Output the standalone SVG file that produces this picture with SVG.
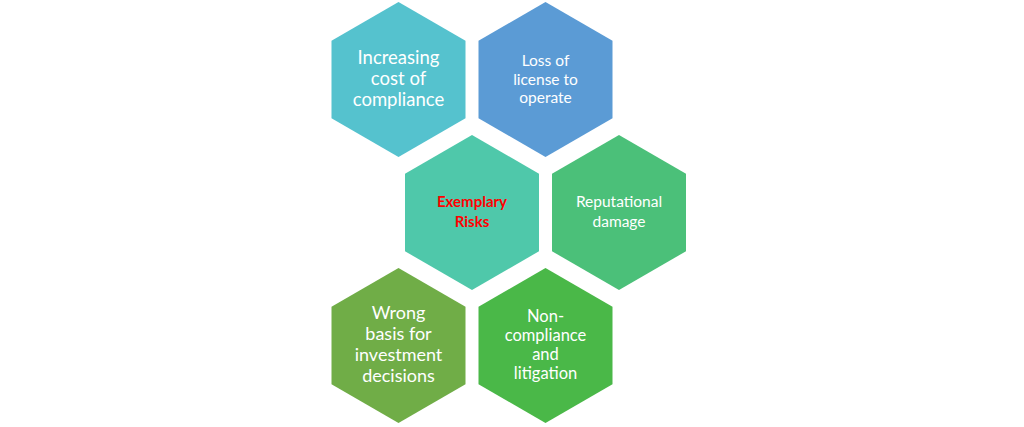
<svg xmlns="http://www.w3.org/2000/svg" width="1024" height="427" viewBox="0 0 1024 427">
<defs>
<style>
.hex{stroke:none}
.t{font-family:Lato,"Open Sans","Liberation Sans",sans-serif;fill:#ffffff;text-anchor:middle}
.red{font-family:Lato,"Open Sans","Liberation Sans",sans-serif;fill:#ff0000;text-anchor:middle;font-weight:bold}
</style>
<polygon id="hx" points="0,-77.5 67,-38.75 67,38.75 0,77.5 -67,38.75 -67,-38.75"/>
</defs>
<rect width="1024" height="427" fill="#ffffff"/>
<g id="connectors"/>
<g id="n1" transform="translate(398.5,79.5)">
<use href="#hx" fill="#55C2CE"/>
<text class="t" font-size="18.5"><tspan x="0" y="-15.5">Increasing</tspan><tspan x="0" y="5.5">cost of</tspan><tspan x="0" y="26.5">compliance</tspan></text>
</g>
<g id="n2" transform="translate(545.5,79.5)">
<use href="#hx" fill="#5B9BD5"/>
<text class="t" font-size="15.5"><tspan x="0" y="-13.5">Loss of</tspan><tspan x="0" y="5">license to</tspan><tspan x="0" y="23.5">operate</tspan></text>
</g>
<g id="n3" transform="translate(472,212.5)">
<use href="#hx" fill="#4FC8AA"/>
<text class="red" font-size="15"><tspan x="0" y="-5.5">Exemplary</tspan><tspan x="0" y="14">Risks</tspan></text>
</g>
<g id="n4" transform="translate(619,212.5)">
<use href="#hx" fill="#4BC079"/>
<text class="t" font-size="15.5"><tspan x="0" y="-5.5">Reputational</tspan><tspan x="0" y="14">damage</tspan></text>
</g>
<g id="n5" transform="translate(398.5,345.5)">
<use href="#hx" fill="#70AD47"/>
<text class="t" font-size="18"><tspan x="0" y="-26.5">Wrong</tspan><tspan x="0" y="-5.5">basis for</tspan><tspan x="0" y="15.5">investment</tspan><tspan x="0" y="36.5">decisions</tspan></text>
</g>
<g id="n6" transform="translate(545.5,345.5)">
<use href="#hx" fill="#4AB848"/>
<text class="t" font-size="16.5"><tspan x="0" y="-24">Non-</tspan><tspan x="0" y="-4.5">compliance</tspan><tspan x="0" y="14.5">and</tspan><tspan x="0" y="33.5">litigation</tspan></text>
</g>
</svg>
